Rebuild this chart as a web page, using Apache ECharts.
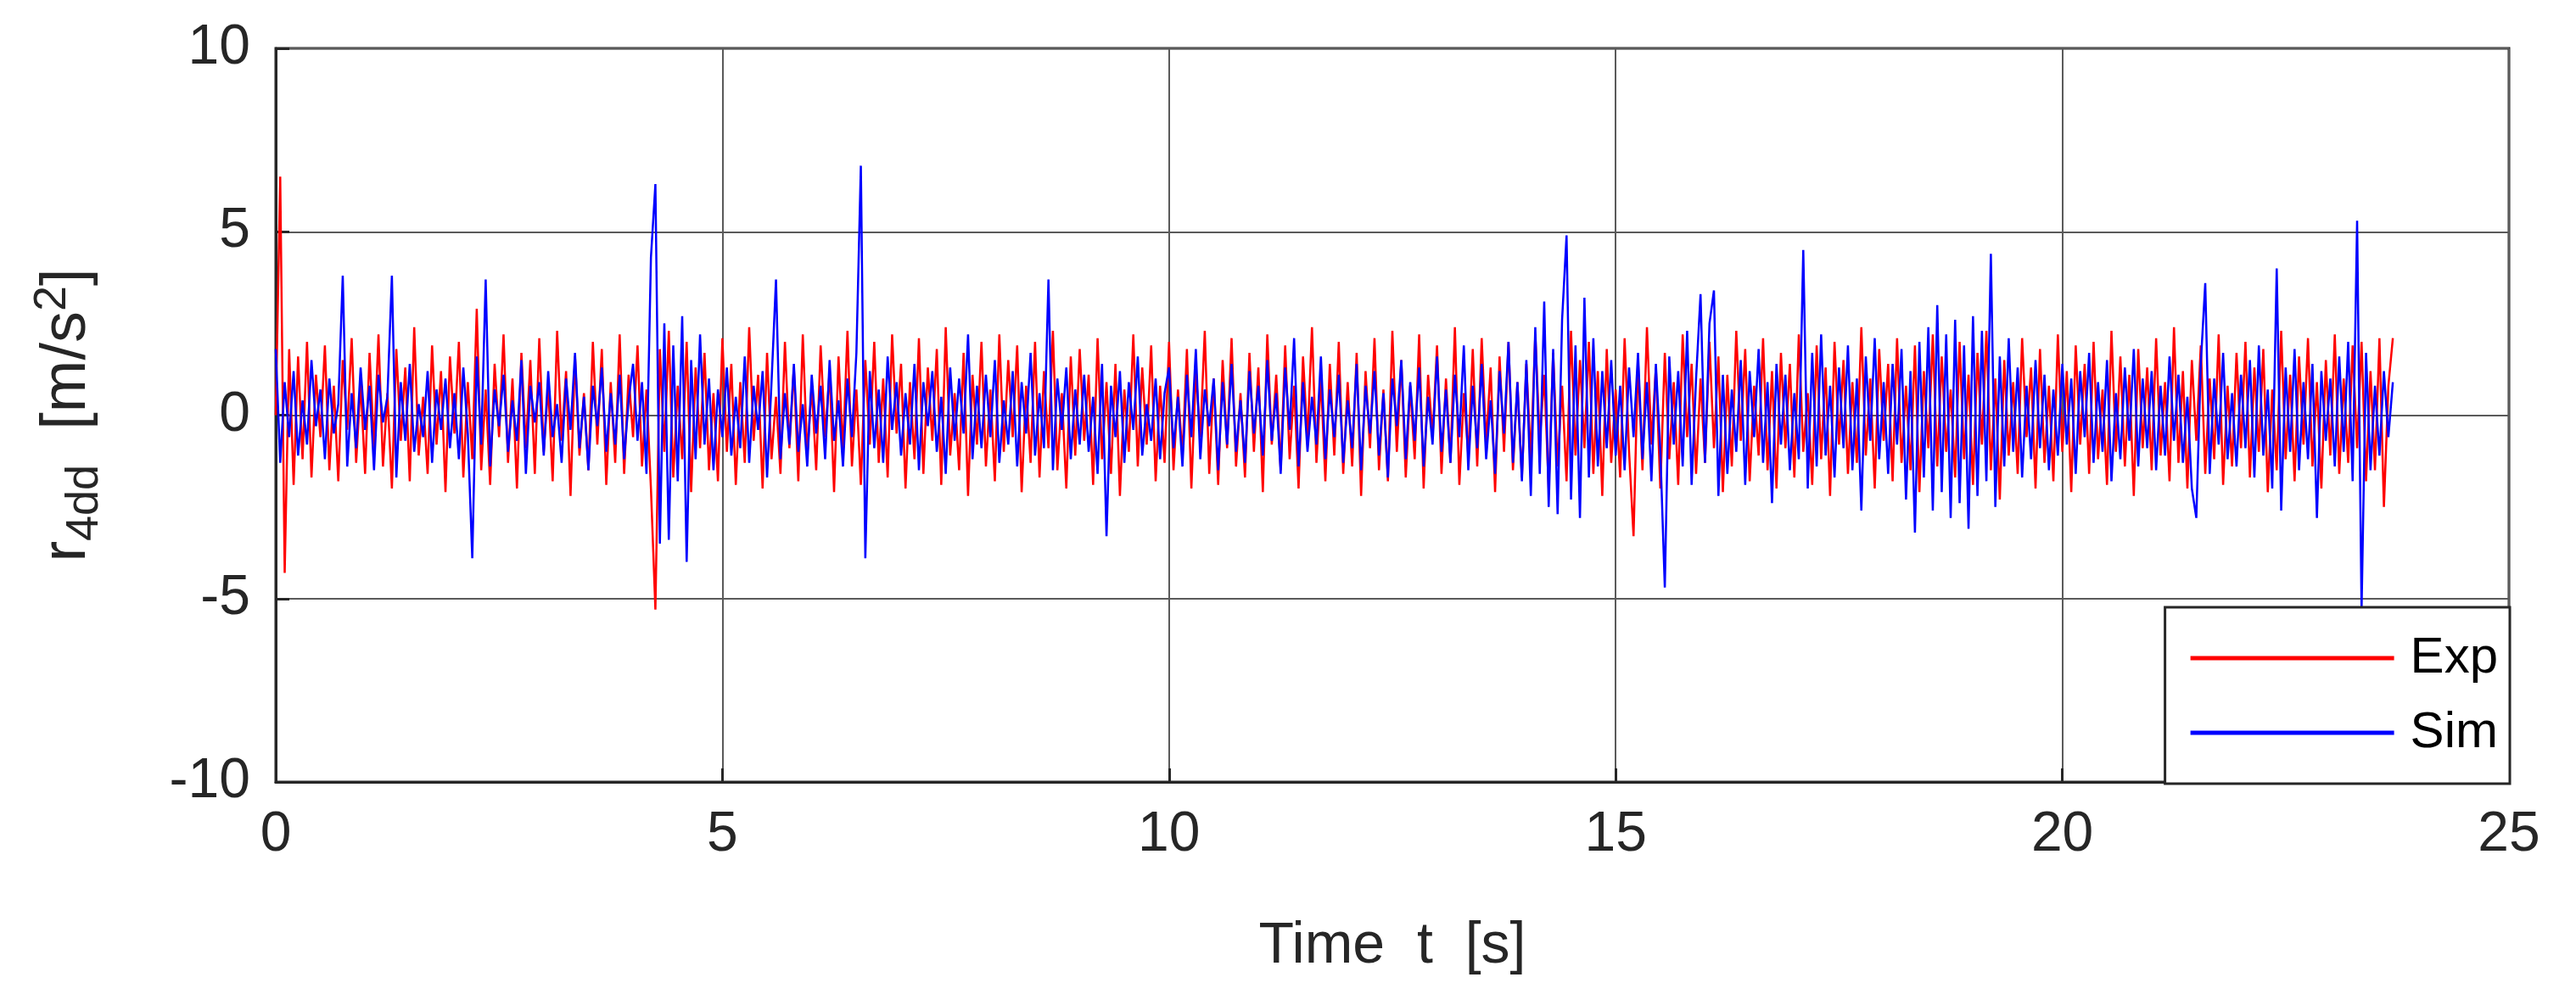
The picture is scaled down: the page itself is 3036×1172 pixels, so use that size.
<!DOCTYPE html>
<html>
<head>
<meta charset="utf-8">
<script src="https://cdn.jsdelivr.net/npm/echarts@6/dist/echarts.min.js"></script>
<style>
  html, body { margin: 0; padding: 0; background: #fff; }
  #main { width: 3036px; height: 1172px; }
</style>
</head>
<body>
<div id="main"></div>
<script>
// sample step of both signals [s]
var dt = 0.05;

// measured response r4dd [m/s^2], one row per second
var expData = [
  0.0, 6.5, -4.3, 1.8, -1.9, 1.6, -1.2, 2.0, -1.7, 1.1, -0.6, 1.9, -1.5, 0.8, -1.8, 1.5, -0.4, 2.1, -1.3, 0.9,
  -1.6, 1.7, -0.9, 2.2, -1.4, 0.6, -2.0, 1.8, -0.7, 1.3, -1.8, 2.4, -1.1, 0.5, -1.6, 1.9, -0.8, 1.2, -2.1, 1.6,
  -0.5, 2.0, -1.7, 0.9, -1.2, 2.9, -1.5, 0.7, -1.9, 1.4, -0.6, 2.2, -1.3, 1.0, -2.0, 1.7, -0.9, 1.5, -1.6, 2.1,
  -1.0, 0.8, -1.8, 2.3, -0.7, 1.2, -2.2, 1.6, -1.1, 0.6, -1.5, 2.0, -0.8, 1.8, -1.9, 0.9, -1.3, 2.2, -1.6, 1.1,
  -0.6, 1.9, -1.4, 0.7, -2.0, -5.3, 1.8, -1.0, 2.3, -1.7, 0.8, -1.2, 2.0, -2.1, 1.3, -0.9, 1.7, -1.5, 0.6, -1.8,
  2.1, -1.0, 1.4, -1.9, 0.9, -1.3, 2.4, -0.7, 1.1, -2.0, 1.7, -1.2, 0.5, -1.6, 2.0, -0.9, 1.3, -1.8, 2.2, -1.1,
  0.8, -1.5, 1.9, -0.6, 1.2, -2.1, 1.6, -1.0, 2.3, -1.4, 0.7, -1.9, 1.5, -0.8, 2.0, -1.3, 1.0, -1.7, 2.2, -0.5,
  1.4, -2.0, 0.9, -1.2, 2.1, -1.6, 1.3, -0.7, 1.8, -1.9, 2.4, -1.1, 0.6, -1.5, 1.7, -2.2, 1.1, -0.8, 2.0, -1.4,
  0.7, -1.8, 2.2, -1.0, 1.5, -0.6, 1.9, -2.1, 0.8, -1.3, 2.0, -1.7, 1.2, -0.9, 2.3, -1.5, 0.6, -2.0, 1.6, -1.1,
  1.8, -0.7, 1.1, -1.9, 2.1, -1.2, 0.9, -1.6, 1.4, -2.2, 0.7, -1.0, 2.2, -1.4, 1.3, -0.8, 1.9, -1.8, 0.8, -1.3,
  2.0, -1.5, 0.7, -1.1, 1.8, -2.0, 1.2, -0.6, 2.3, -1.6, 1.0, -1.9, 1.5, -0.9, 2.1, -1.4, 0.6, -1.7, 1.7, -1.0,
  1.3, -2.1, 2.2, -0.8, 1.1, -1.5, 1.9, -1.2, 0.8, -2.0, 1.6, -0.7, 2.4, -1.3, 1.0, -1.8, 1.4, -1.1, 2.0, -1.6,
  0.9, -1.4, 1.7, -2.2, 1.2, -0.9, 2.1, -1.5, 0.7, -1.8, 2.3, -1.0, 1.5, -1.7, 0.8, -1.2, 2.2, -2.0, 1.1, -0.6,
  1.9, -1.6, 1.0, -1.3, 2.4, -1.9, 0.6, -1.1, 1.8, -1.4, 2.1, -0.8, 1.3, -2.1, 1.6, -1.0, 2.0, -1.5, 0.9, -1.7,
  1.4, -1.2, 2.2, -0.7, 1.1, -2.0, 1.7, -1.4, 0.8, -1.8, 2.3, -1.1, 1.5, -0.9, 2.0, -1.6, 1.2, -2.2, 1.8, -1.3,
  0.7, -1.7, 2.1, -1.0, -3.3, 1.5, -1.5, 2.4, -0.8, 1.3, -2.0, 1.7, -1.2, 0.9, -1.9, 2.2, -0.6, 1.4, -1.6, 1.0,
  -1.3, 2.0, -0.9, 1.6, -2.1, 1.1, -1.4, 2.3, -0.7, 1.8, -1.8, 0.8, -1.1, 2.1, -1.5, 1.2, -2.0, 1.7, -0.9, 1.4,
  -1.7, 2.2, -1.0, 0.6, -1.9, 1.9, -1.2, 1.3, -2.2, 2.0, -0.8, 1.5, -1.6, 0.9, -1.3, 2.4, -1.1, 1.0, -2.0, 1.8,
  -0.7, 1.4, -1.8, 2.1, -1.3, 0.8, -1.5, 1.9, -2.1, 1.2, -0.9, 2.2, -1.4, 1.6, -1.0, 0.7, -1.7, 2.0, -1.2, 1.1,
  -1.9, 1.7, -0.8, 2.3, -1.5, 1.0, -2.3, 1.5, -1.1, 0.9, -1.6, 2.1, -0.6, 1.3, -2.0, 1.8, -1.3, 0.8, -1.8, 2.2,
  -1.0, 1.2, -2.1, 1.9, -0.8, 1.4, -1.6, 2.0, -1.2, 0.7, -1.9, 2.3, -1.0, 1.6, -1.4, 1.1, -2.2, 1.8, -0.9, 1.3,
  -1.5, 2.1, -1.1, 0.9, -1.8, 2.4, -1.3, 1.2, -2.0, 1.5, -0.7, 1.9, -1.6, 1.0, -1.2, 2.2, -1.9, 0.8, -1.4, 1.7,
  -0.9, 2.0, -1.7, 1.3, -1.0, 1.8, -2.1, 0.7, -1.5, 2.3, -1.2, 1.1, -1.8, 1.6, -0.8, 2.1, -1.4, 0.9, -2.0, 1.5,
  -1.1, 2.2, -1.6, 1.0, -1.3, 1.9, -0.9, 2.0, -1.8, 1.2, -1.5, 2.1, -2.5, 0.8, 2.1
];

// simulated response r4dd [m/s^2], one row per second
var simData = [
  1.8, -1.3, 0.9, -0.6, 1.2, -1.1, 0.4, -0.8, 1.5, -0.3, 0.7, -1.2, 1.0, -0.5, 0.3, 3.8, -1.4, 0.6, -0.9, 1.3,
  -0.4, 0.8, -1.5, 1.1, -0.2, 0.5, 3.8, -1.7, 0.9, -0.7, 1.4, -1.0, 0.3, -0.6, 1.2, -1.3, 0.7, -0.4, 1.0, -0.9,
  0.6, -1.2, 1.3, -0.5, -3.9, 1.6, -0.8, 3.7, -1.4, 0.7, -0.3, 1.1, -1.0, 0.4, -0.7, 1.5, -1.6, 0.8, -0.2, 0.9,
  -1.1, 1.2, -0.6, 0.3, -1.3, 1.0, -0.4, 1.7, -0.9, 0.5, -1.5, 0.8, -0.3, 1.3, -1.0, 0.6, -0.8, 1.1, -1.2, 0.4,
  1.4, -0.7, 0.9, -1.6, 4.3, 6.3, -3.5, 2.5, -3.4, 1.9, -1.8, 2.7, -4.0, 1.5, -1.2, 2.2, -0.8, 1.0, -1.5, 0.7,
  -0.6, 1.3, -1.1, 0.5, -0.9, 1.6, -1.3, 0.8, -0.4, 1.2, -1.7, 0.9, 3.7, -1.2, 0.6, -0.8, 1.4, -1.0, 0.3, -1.4,
  1.1, -0.5, 0.8, -1.2, 1.5, -0.7, 0.4, -1.4, 1.0, -0.6, 1.7, 6.8, -3.9, 1.2, -0.9, 0.7, -1.3, 1.6, -0.4, 0.9,
  -1.1, 0.6, -0.8, 1.4, -1.5, 0.9, -0.3, 1.2, -1.0, 0.5, -1.6, 1.3, -0.7, 1.0, -0.5, 2.2, -1.2, 0.8, -0.9, 1.1,
  -0.6, 1.5, -1.3, 0.4, -0.8, 1.2, -1.4, 0.9, -0.5, 1.7, -1.1, 0.6, -0.9, 3.7, -1.5, 1.0, -0.4, 1.3, -1.2, 0.7,
  -0.8, 1.1, -1.0, 0.5, -1.6, 1.4, -3.3, 0.8, -0.6, 1.2, -1.3, 0.9, -0.4, 1.6, -1.1, 0.3, -0.7, 1.0, -1.2, 0.6,
  1.3, -0.9, 0.5, -1.4, 1.1, -0.6, 1.8, -1.2, 0.7, -0.3, 1.0, -1.5, 0.9, -0.8, 1.4, -1.0, 0.4, -1.3, 1.2, -0.5,
  0.8, -1.1, 1.5, -0.7, 0.6, -1.6, 1.3, -0.4, 2.1, -1.4, 0.9, -1.0, 0.5, -0.8, 1.6, -1.2, 0.7, -0.6, 1.1, -1.3,
  0.4, -0.9, 1.4, -1.5, 0.8, -0.5, 1.2, -1.1, 0.6, -1.7, 1.0, -0.3, 1.5, -1.2, 0.9, -0.7, 1.3, -1.4, 0.5, -0.8,
  1.6, -1.0, 0.7, -1.3, 1.1, -0.6, 1.9, -1.5, 0.8, -0.9, 1.4, -1.2, 0.4, -1.6, 1.2, -0.5, 2.0, -1.3, 0.9, -1.8,
  1.5, -2.2, 2.4, -1.6, 3.1, -2.5, 1.8, -2.7, 2.6, 4.9, -2.3, 1.9, -2.8, 3.2, -1.7, 2.1, -1.4, 1.2, -0.9, 1.5,
  -1.1, 0.8, -1.5, 1.3, -0.6, 1.7, -1.2, 0.9, -1.8, 1.4, -1.0, -4.7, 1.6, -0.8, 1.2, -1.4, 2.3, -1.9, 1.0, 3.3,
  -1.3, 2.5, 3.4, -2.2, 1.1, -1.6, 0.7, -1.0, 1.5, -1.9, 1.2, -0.6, 1.8, -1.3, 0.9, -2.4, 1.4, -0.8, 1.1, -1.5,
  0.6, -1.2, 4.5, -2.0, 1.7, -1.4, 2.2, -1.1, 0.8, -1.7, 1.3, -0.9, 1.9, -1.5, 1.0, -2.6, 1.6, -0.7, 2.1, -1.2,
  0.9, -1.6, 1.4, -0.8, 1.8, -2.3, 1.2, -3.2, 2.0, -1.7, 2.4, -2.6, 3.0, -2.1, 2.2, -2.8, 2.6, -2.4, 1.9, -3.1,
  2.7, -2.2, 2.3, -1.8, 4.4, -2.5, 1.6, -1.4, 2.1, -1.0, 1.3, -1.7, 0.8, -1.2, 1.5, -0.9, 1.1, -1.5, 0.7, -1.1,
  1.4, -0.8, 1.0, -1.6, 1.2, -0.6, 1.7, -1.3, 0.9, -1.0, 1.5, -1.8, 0.6, -1.2, 1.3, -0.7, 1.8, -1.4, 1.0, -0.9,
  1.2, -1.5, 0.8, -1.1, 1.6, -0.7, 1.1, -1.3, 0.5, -2.0, -2.8, 1.4, 3.6, -1.6, 1.0, -0.8, 1.7, -1.2, 0.6, -1.4,
  1.1, -0.9, 1.5, -1.7, 1.9, -1.1, 0.7, -2.0, 4.0, -2.6, 1.3, -1.0, 1.8, -1.5, 0.9, -1.2, 1.4, -2.8, 1.2, -0.7,
  1.0, -1.4, 1.6, -1.0, 2.0, -1.8, 5.3, -5.3, 1.7, -1.5, 0.8, -1.1, 1.2, -0.6, 0.9
];

var seriesNames = ['Exp', 'Sim'];
var xTicks = [0, 5, 10, 15, 20, 25];
var yTicks = [-10, -5, 0, 5, 10];

function toPairs(values) {
  var out = [];
  for (var i = 0; i < values.length; i++) {
    out.push([+(i * dt).toFixed(2), values[i]]);
  }
  return out;
}

var myChart = echarts.init(document.getElementById('main'));

var font = 'Arial, "Liberation Sans", Helvetica, sans-serif';
var ink = '#262626';

var option = {
  backgroundColor: '#fff',
  animation: false,
  textStyle: { fontFamily: font },
  grid: {
    left: 325, right: 3036 - 2957, top: 57, bottom: 1172 - 922,
    show: true, borderColor: ink, borderWidth: 3
  },
  legend: {
    data: seriesNames,
    orient: 'vertical',
    right: 3036 - 2958,
    bottom: 1172 - 924,
    backgroundColor: '#fff',
    borderColor: ink,
    borderWidth: 3,
    borderRadius: 0,
    padding: [30, 14, 30, 30],
    itemGap: 28,
    itemWidth: 240,
    itemHeight: 5,
    icon: 'rect',
    textStyle: { fontSize: 60, color: '#000', fontFamily: font, padding: [0, 0, 0, 14] }
  },
  xAxis: {
    type: 'value',
    min: xTicks[0], max: xTicks[xTicks.length - 1], interval: 5,
    name: 'Time  t  [s]',
    nameLocation: 'middle',
    nameGap: 160,
    nameTextStyle: { fontSize: 68, color: ink, fontFamily: font },
    axisLine: { show: true, onZero: false, lineStyle: { color: ink, width: 3 } },
    axisTick: { show: true, inside: true, length: 16, lineStyle: { color: ink, width: 3 } },
    axisLabel: { fontSize: 66, color: ink, margin: 30, fontFamily: font },
    splitLine: { show: true, lineStyle: { color: '#5a5a5a', width: 2 } }
  },
  yAxis: {
    type: 'value',
    min: yTicks[0], max: yTicks[yTicks.length - 1], interval: 5,
    name: '{m|r}{sub|4dd}{m|  [m/s}{sup|2}{m|]}',
    nameLocation: 'middle',
    nameGap: 200,
    nameRotate: 90,
    nameTextStyle: {
      color: ink,
      fontFamily: font,
      rich: {
        m: { fontSize: 74, color: ink, fontFamily: font, lineHeight: 90, verticalAlign: 'middle' },
        sub: { fontSize: 54, color: ink, fontFamily: font, lineHeight: 90, padding: [40, 0, 0, 0], verticalAlign: 'middle' },
        sup: { fontSize: 54, color: ink, fontFamily: font, lineHeight: 90, padding: [0, 0, 36, 0], verticalAlign: 'middle' }
      }
    },
    axisLine: { show: true, onZero: false, lineStyle: { color: ink, width: 3 } },
    axisTick: { show: true, inside: true, length: 16, lineStyle: { color: ink, width: 3 } },
    axisLabel: { fontSize: 66, color: ink, margin: 30, fontFamily: font },
    splitLine: { show: true, lineStyle: { color: '#5a5a5a', width: 2 } }
  },
  series: [
    {
      name: seriesNames[0],
      type: 'line',
      data: toPairs(expData),
      showSymbol: false,
      symbol: 'none',
      lineStyle: { color: '#ff0000', width: 2.5 },
      itemStyle: { color: '#ff0000' },
      z: 2
    },
    {
      name: seriesNames[1],
      type: 'line',
      data: toPairs(simData),
      showSymbol: false,
      symbol: 'none',
      lineStyle: { color: '#0000ff', width: 2.5 },
      itemStyle: { color: '#0000ff' },
      z: 3
    }
  ]
};

myChart.setOption(option);
</script>
</body>
</html>
